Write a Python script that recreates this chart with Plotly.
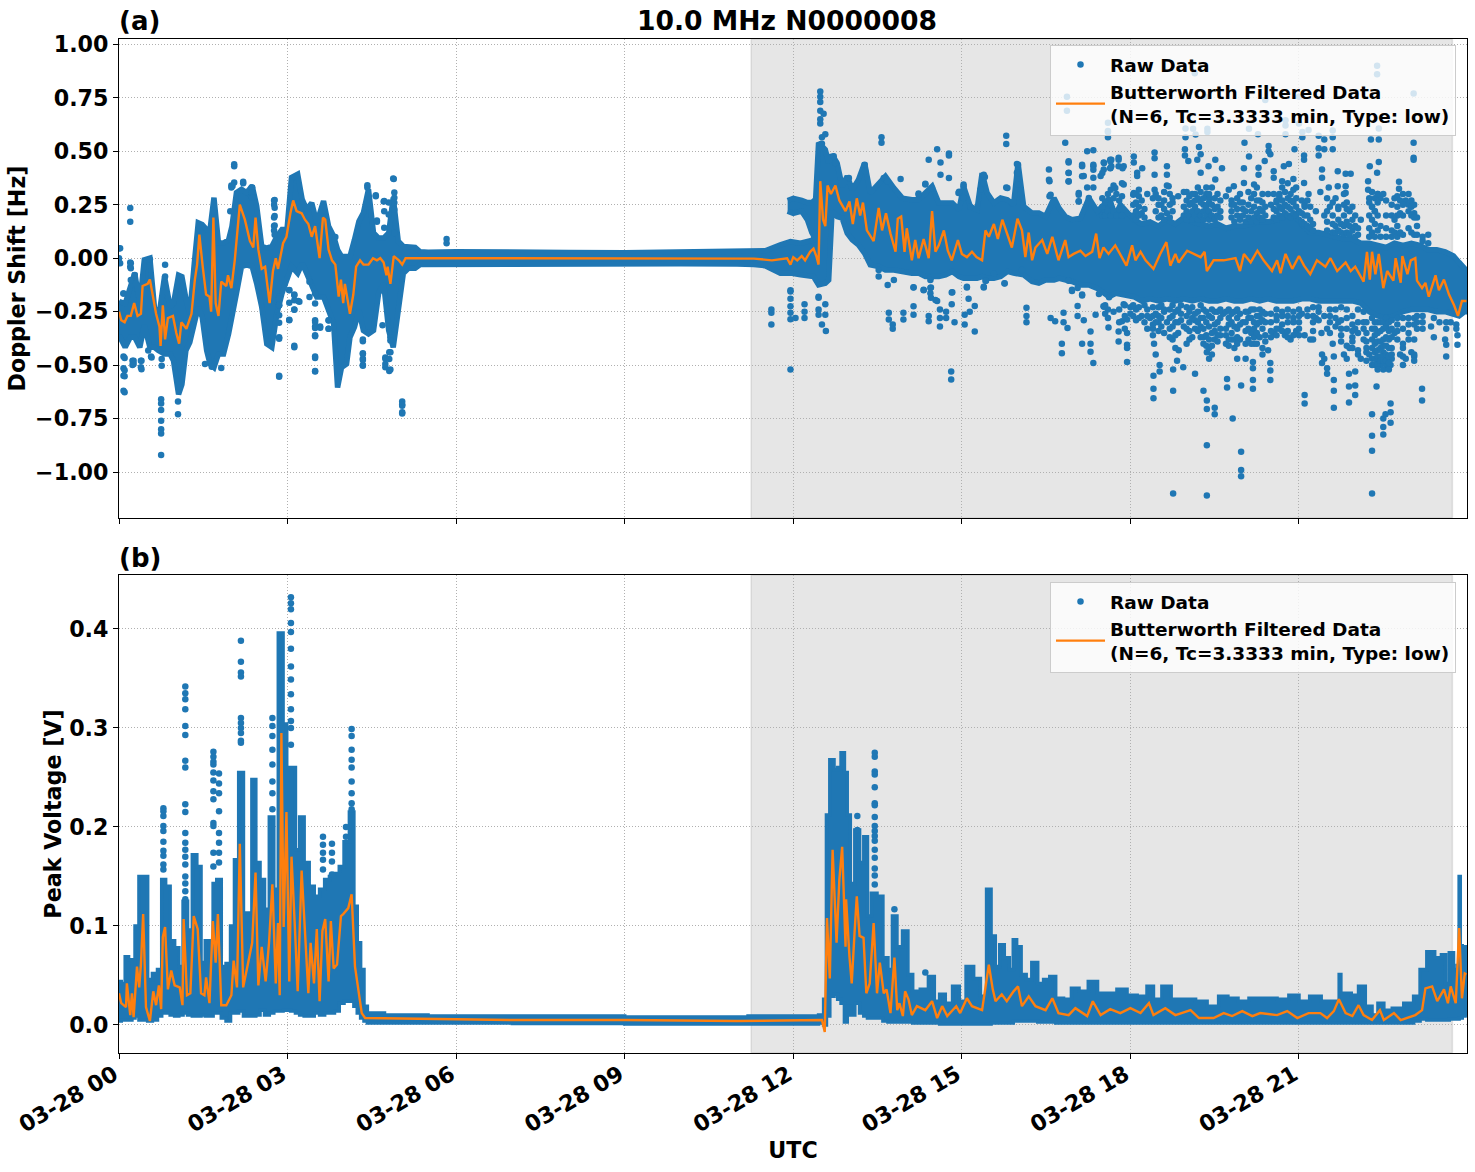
import pandas as pd
import plotly.graph_objects as go

# Time is held in hours after 00:00 UTC on the day plotted.
DAY_START = pd.Timestamp("2024-03-28 00:00:00")
X_END_HOURS = 23.99
SHADE_HOURS = (11.25, 23.73)

TITLE = "10.0 MHz N0000008"
RAW_LABEL = "Raw Data"
FILTER_LABEL = "Butterworth Filtered Data<br>(N=6, Tc=3.3333 min, Type: low)"

DOPPLER_TICKS = [-1.0, -0.75, -0.5, -0.25, 0.0, 0.25, 0.5, 0.75, 1.0]
VOLTAGE_TICKS = [0.0, 0.1, 0.2, 0.3, 0.4]

# Dense body of the raw Doppler samples: (hour, upper edge, lower edge)
DOPPLER_BODY = [
    (0.0, -0.2, -0.36), (0.02, -0.204, -0.37), (0.11, -0.212, -0.417), (0.2, -0.134, -0.37), (0.28, -0.07, -0.37), (0.37, -0.212, -0.417),
    (0.45, -0.008, -0.314), (0.55, 0.0, -0.417), (0.63, -0.228, -0.417), (0.7, -0.29, -0.432), (0.81, -0.086, -0.448), (0.91, -0.228, -0.448),
    (0.97, -0.212, -0.48), (1.06, -0.079, -0.637), (1.12, -0.086, -0.59), (1.19, -0.189, -0.432), (1.26, -0.259, -0.393), (1.34, -0.024, -0.307),
    (1.41, 0.165, -0.228), (1.48, 0.157, -0.275), (1.56, 0.134, -0.432), (1.62, 0.134, -0.495), (1.69, 0.283, -0.511), (1.77, 0.071, -0.448),
    (1.86, 0.071, -0.448), (1.95, 0.086, -0.354), (2.01, 0.149, -0.291), (2.09, 0.307, -0.165), (2.18, 0.322, -0.039), (2.27, 0.307, -0.031),
    (2.37, 0.338, -0.039), (2.45, 0.244, -0.118), (2.54, 0.055, -0.228), (2.63, 0.047, -0.401), (2.72, 0.055, -0.417), (2.81, 0.102, -0.259),
    (2.9, 0.134, -0.165), (2.99, 0.134, -0.102), (3.07, 0.377, -0.039), (3.18, 0.393, -0.071), (3.26, 0.275, -0.024), (3.34, 0.228, -0.071),
    (3.43, 0.259, -0.118), (3.52, 0.165, -0.181), (3.64, 0.267, -0.181), (3.73, 0.149, -0.244), (3.82, 0.102, -0.307), (3.89, 0.039, -0.605),
    (3.96, 0.008, -0.511), (4.05, 0.008, -0.495), (4.11, 0.008, -0.37), (4.19, 0.086, -0.322), (4.27, 0.173, -0.244), (4.35, 0.212, -0.338),
    (4.44, 0.322, -0.354), (4.53, 0.118, -0.338), (4.62, 0.094, -0.165), (4.71, 0.094, -0.118), (4.8, 0.118, -0.338), (4.88, 0.283, -0.417),
    (4.97, 0.079, -0.259), (5.06, 0.055, -0.071), (5.15, 0.055, -0.047), (5.27, 0.05, -0.047), (5.36, 0.03, -0.03),
    (5.5, 0.028, -0.028), (6.0, 0.03, -0.032), (7.0, 0.026, -0.027), (8.0, 0.027, -0.026), (9.0, 0.025, -0.027),
    (10.0, 0.027, -0.026), (11.0, 0.028, -0.027), (11.3, 0.032, -0.03), (11.5, 0.035, -0.035), (11.77, 0.062, -0.07),
    (11.95, 0.078, -0.07), (12.13, 0.07, -0.078), (12.36, 0.086, -0.086), (12.45, 0.54, -0.125), (12.57, 0.508, -0.117), (12.63, 0.445, -0.102),
    (12.69, 0.484, 0.219), (12.78, 0.445, 0.195), (12.87, 0.336, 0.187), (12.96, 0.383, 0.117), (13.05, 0.32, 0.086), (13.16, 0.367, 0.062),
    (13.27, 0.445, 0.023), (13.37, 0.305, -0.031), (13.52, 0.352, -0.039), (13.64, 0.383, -0.055), (13.79, 0.328, -0.055), (13.94, 0.281, -0.062),
    (14.11, 0.273, -0.07), (14.23, 0.273, -0.07), (14.35, 0.305, -0.086), (14.47, 0.336, -0.086), (14.59, 0.258, -0.086), (14.71, 0.258, -0.078),
    (14.83, 0.258, -0.062), (14.95, 0.227, -0.086), (15.03, 0.336, -0.094), (15.15, 0.242, -0.094), (15.27, 0.227, -0.094), (15.36, 0.398, -0.086),
    (15.45, 0.305, -0.094), (15.57, 0.258, -0.094), (15.69, 0.281, -0.086), (15.81, 0.273, -0.062), (15.92, 0.25, -0.07), (16.0, 0.445, -0.07),
    (16.1, 0.242, -0.078), (16.25, 0.211, -0.109), (16.37, 0.211, -0.117), (16.49, 0.195, -0.102), (16.64, 0.281, -0.102), (16.73, 0.234, -0.094),
    (16.84, 0.195, -0.102), (16.96, 0.18, -0.109), (17.11, 0.187, -0.125), (17.26, 0.281, -0.125), (17.41, 0.22, -0.141), (17.53, 0.25, -0.164),
    (17.62, 0.281, -0.18), (17.74, 0.195, -0.164), (17.82, 0.25, -0.164), (18.06, 0.18, -0.18), (18.2, 0.16, -0.2), (18.35, 0.17, -0.19), (18.5, 0.15, -0.2),
    (18.65, 0.18, -0.19), (18.8, 0.16, -0.2), (18.95, 0.19, -0.19), (19.1, 0.17, -0.2), (19.25, 0.16, -0.19),
    (19.4, 0.15, -0.2), (19.55, 0.16, -0.2), (19.7, 0.14, -0.19), (19.85, 0.15, -0.2), (20.0, 0.15, -0.2),
    (20.15, 0.16, -0.19), (20.3, 0.17, -0.2), (20.45, 0.17, -0.19), (20.6, 0.18, -0.2), (20.75, 0.2, -0.2),
    (20.9, 0.2, -0.2), (21.05, 0.16, -0.19), (21.2, 0.12, -0.19), (21.35, 0.12, -0.2), (21.5, 0.11, -0.2),
    (21.65, 0.1, -0.2), (21.8, 0.09, -0.2), (21.95, 0.09, -0.2), (22.1, 0.07, -0.21), (22.25, 0.07, -0.25),
    (22.4, 0.06, -0.27), (22.55, 0.05, -0.28), (22.7, 0.07, -0.27), (22.85, 0.06, -0.25), (23.0, 0.07, -0.24),
    (23.15, 0.06, -0.24), (23.3, 0.04, -0.24), (23.45, 0.04, -0.25), (23.6, 0.03, -0.25), (23.75, 0.01, -0.26),
    (23.85, -0.02, -0.27), (23.95, -0.05, -0.25), (23.99, -0.06, -0.25),
]

# Compact cluster of samples near +0.25 Hz just before the jump at 12:30
DOPPLER_CLUSTER = [
    (11.9, 0.27, 0.22), (12.0, 0.28, 0.21), (12.15, 0.27, 0.22), (12.25, 0.26, 0.18), (12.33, 0.26, 0.12), (12.42, 0.28, 0.08),
]

# Scattered Doppler samples outside the body: (hour, [values])
DOPPLER_SCATTER = [
    (0.0, [0.045, 0.0, -0.02]), (0.2, [0.235, 0.17, -0.02, -0.04]), (0.08, [-0.165, -0.46, -0.515, -0.55, -0.62]),
    (0.24, [-0.48, -0.5]), (0.39, [-0.48, -0.51]), (0.57, [-0.46]), (0.75, [-0.66, -0.68, -0.71, -0.76, -0.8, -0.82, -0.92]),
    (1.05, [-0.67, -0.73]), (2.05, [0.43]), (2.0, [0.34, 0.33]), (2.21, [0.35]), (2.36, [0.33, 0.31, 0.29]),
    (2.76, [0.27, 0.25, 0.19, 0.15, 0.13]), (2.85, [-0.55, -0.37, -0.22, -0.18]), (3.03, [-0.29, -0.15]),
    (3.12, [-0.41, -0.24, -0.17]), (3.19, [-0.2]), (3.49, [-0.46, -0.53, -0.36, -0.32, -0.29]), (3.58, [-0.32]),
    (3.73, [-0.33, -0.29]), (4.34, [-0.5, -0.47, -0.445, -0.38]), (4.42, [0.33]), (4.57, [0.29]), (4.59, [0.17]),
    (4.89, [0.37]), (4.71, [0.265]), (4.8, [0.26]), (4.74, [-0.47, -0.51]), (4.83, [-0.52, -0.44, -0.37]),
    (5.04, [-0.67, -0.69, -0.72]), (5.83, [0.09, 0.07]),
    (11.61, [-0.24, -0.255, -0.31]), (11.95, [-0.15, -0.19, -0.225, -0.255, -0.285, -0.52]), (12.04, [-0.28]),
    (12.2, [-0.215, -0.25, -0.28]), (12.45, [-0.185, -0.24, -0.265]), (12.51, [-0.31, 0.565, 0.535]), (12.57, [-0.215, -0.265, 0.58]),
    (12.58, [-0.34]), (12.48, [0.78, 0.755, 0.73, 0.69, 0.65, 0.63]), (12.54, [0.675]), (13.7, [-0.255, -0.287]), (13.77, [-0.31, -0.33]),
    (13.96, [-0.255, -0.287]), (14.14, [-0.225, -0.265, -0.137]), (14.32, [-0.15]), (14.41, [-0.27, -0.295, 0.46]),
    (14.45, [-0.09, -0.137, -0.185]), (14.56, [-0.2, 0.51]), (14.61, [-0.24, -0.28, -0.32]), (14.72, [-0.25, -0.28]),
    (14.82, [-0.16, -0.216]), (14.87, [-0.3]), (14.81, [-0.53, -0.567]), (15.05, [-0.264, -0.31]), (15.09, [-0.137]),
    (15.12, [-0.19]), (15.14, [-0.25]), (15.23, [-0.224, -0.343]), (15.39, [-0.137]), (15.43, [-0.106]), (15.76, [-0.118]),
    (16.15, [-0.232, -0.27, -0.3]), (16.58, [-0.28]), (16.66, [-0.295]), (16.78, [-0.4, -0.445]), (16.81, [-0.255, -0.3]),
    (16.88, [-0.327]), (16.96, [-0.153]), (17.06, [-0.224, -0.27]), (17.14, [-0.4, -0.17, 0.43]), (17.17, [-0.29, 0.384]),
    (17.29, [-0.343, -0.4, -0.437]), (17.34, [-0.49, 0.505, 0.43, 0.376, 0.33]), (17.38, [-0.264]), (17.61, [-0.324]),
    (17.79, [-0.343, -0.39, 0.46, 0.47, 0.43]), (17.94, [-0.485, -0.405, -0.287, -0.35, -0.42]), (17.88, [-0.216, 0.43, 0.344]),
    (13.57, [0.565, 0.54]), (14.62, [0.447, 0.39]), (14.77, [0.49, 0.48, 0.375]), (14.35, [0.345]), (14.23, [0.297]),
    (15.03, [0.336]), (14.94, [0.305]), (15.15, [0.24]), (15.41, [0.38]), (15.79, [0.573, 0.534, 0.33]), (15.98, [0.44, 0.4]),
    (16.55, [0.415]), (16.56, [0.36, 0.29]), (16.84, [0.54]), (16.9, [0.447, 0.4, 0.36]), (17.08, [0.305, 0.265]), (17.23, [0.5, 0.33]),
    (17.525, [0.447, 0.415]), (17.6, [0.565, 0.59, 0.633, 0.595]), (17.66, [0.46, 0.43]), (17.47, [0.384]), (18.12, [0.4, 0.384]),
    (18.05, [0.297]), (16.87, [0.755, 0.69]),
    (19.145, [0.865]), (22.39, [0.9, 0.86, 0.4]), (23.04, [0.77, 0.54, 0.47, 0.46]), (20.4, [0.74]), (19.33, [0.755]),
    (20.76, [0.645, 0.62, 0.58]), (21.0, [0.755, 0.63]), (18.98, [0.607, 0.565]), (19.115, [0.605]), (19.16, [0.578]),
    (19.37, [0.605, 0.59]), (20.11, [0.605, 0.475]), (20.27, [0.58]), (21.06, [0.59, 0.565]), (21.17, [0.6, 0.3]), (21.35, [0.573, 0.514, 0.48]),
    (21.45, [0.555, 0.51]), (21.6, [0.597, 0.565, 0.51]), (22.28, [0.555]), (22.42, [0.607, 0.555, 0.45]), (20.03, [0.54]),
    (20.46, [0.525, 0.5]), (20.49, [0.486]), (20.92, [0.51]), (21.09, [0.48, 0.46, 0.352]), (18.97, [0.51, 0.48]), (19.03, [0.455]),
    (19.22, [0.52]), (19.19, [0.46]), (19.25, [0.486, 0.4]), (18.43, [0.494, 0.467, 0.39, 0.32]), (18.06, [0.475, 0.447, 0.305]), (17.64, [0.46, 0.42]),
    (17.86, [0.42]), (20.02, [0.42, 0.352]), (20.28, [0.423, 0.39]), (20.39, [0.455]), (20.55, [0.407, 0.376]), (20.73, [0.43]), (20.82, [0.44]),
    (21.41, [0.415, 0.376]), (21.38, [0.31]), (21.53, [0.33]), (21.69, [0.407, 0.336]), (21.83, [0.395, 0.336, 0.305]), (21.92, [0.395]),
    (22.26, [0.43]), (22.23, [0.36, 0.32]), (22.78, [0.357, 0.325]), (18.65, [0.43, 0.39]), (18.68, [0.336]), (18.21, [0.42]),
    (19.51, [0.46, 0.368]), (19.39, [0.43]), (19.63, [0.42]), (19.84, [0.336]), (20.2, [0.344]),
    (18.1, [0.3]), (18.15, [0.32]), (18.3, [0.3]), (18.4, [0.28]), (18.5, [0.25]), (18.6, [0.31]), (18.7, [0.3]), (18.75, [0.26]), (18.85, [0.29]),
    (18.95, [0.31]), (19.0, [0.27]), (19.1, [0.26]), (19.15, [0.3]), (19.2, [0.33]), (19.3, [0.25]), (19.35, [0.3]), (19.4, [0.28]), (19.45, [0.33]),
    (19.55, [0.3]), (19.6, [0.27]), (19.7, [0.29]), (19.75, [0.32]), (19.8, [0.25]), (19.9, [0.28]), (19.95, [0.3]), (20.0, [0.26]), (20.1, [0.31]),
    (20.15, [0.28]), (20.25, [0.33]), (20.3, [0.27]), (20.35, [0.3]), (20.45, [0.3]), (20.5, [0.25]), (20.6, [0.27]), (20.65, [0.3]), (20.7, [0.33]),
    (20.8, [0.35]), (20.85, [0.3]), (20.9, [0.37]), (20.95, [0.33]), (21.05, [0.27]), (21.1, [0.25]), (21.15, [0.27]), (21.2, [0.24]), (21.3, [0.22]),
    (21.45, [0.2]), (21.5, [0.28]), (21.55, [0.24]), (21.65, [0.28]), (21.7, [0.24]), (21.8, [0.3]), (21.85, [0.26]), (21.9, [0.22]), (21.95, [0.24]),
    (22.0, [0.2]), (22.1, [0.18]), (22.25, [0.28]), (22.3, [0.24]), (22.35, [0.22]), (22.4, [0.3]), (22.45, [0.28]), (22.5, [0.3]), (22.55, [0.2]),
    (22.65, [0.25]), (22.7, [0.28]), (22.75, [0.2]), (22.85, [0.3]), (22.9, [0.27]), (22.95, [0.25]), (23.0, [0.24]), (23.05, [0.21]), (23.1, [0.19]),
    (17.52, [-0.225]), (17.85, [-0.295]), (18.41, [-0.55, -0.61, -0.655]), (18.52, [-0.5, -0.53]), (18.76, [-0.62, -0.52, -1.1]), (18.86, [-0.43]),
    (18.83, [-0.48]), (18.94, [-0.51]), (19.15, [-0.54, -0.33]), (19.3, [-0.62, -0.28]), (19.36, [-0.665, -0.705, -0.875, -1.11, -0.44]), (19.5, [-0.7, -0.73, -0.38]),
    (19.72, [-0.565, -0.605]), (19.82, [-0.75]), (19.97, [-0.595, -0.905, -0.99, -1.02]), (20.18, [-0.485, -0.515, -0.57, -0.61]), (20.49, [-0.49, -0.525, -0.57]),
    (21.1, [-0.64, -0.68, -0.36]), (21.41, [-0.45, -0.49]), (21.5, [-0.515, -0.54, -0.33]), (21.62, [-0.46, -0.57, -0.62, -0.7]), (21.89, [-0.54, -0.6, -0.675]),
    (22.0, [-0.53, -0.595, -0.64, -0.33]), (22.3, [-0.73, -0.83, -0.9, -1.1, -0.33]), (22.38, [-0.6]), (22.5, [-0.75, -0.79, -0.825, -0.44]), (22.63, [-0.68, -0.72, -0.77, -0.5]),
    (22.54, [-0.73]), (23.19, [-0.61, -0.665]), (23.62, [-0.405, -0.46]), (23.82, [-0.36, -0.405]),
    (18.1, [-0.24]), (18.2, [-0.27]), (18.35, [-0.28]), (18.4, [-0.33]), (18.42, [-0.4]), (18.45, [-0.45]), (18.5, [-0.3]), (18.6, [-0.25]), (18.65, [-0.3]), (18.7, [-0.33]),
    (18.75, [-0.38]), (18.8, [-0.3]), (18.85, [-0.35]), (18.9, [-0.26]), (18.95, [-0.32]), (19.0, [-0.4]), (19.05, [-0.3]), (19.1, [-0.28]), (19.2, [-0.25]), (19.25, [-0.37]),
    (19.35, [-0.3]), (19.4, [-0.47]), (19.45, [-0.35]), (19.55, [-0.3]), (19.6, [-0.36]), (19.65, [-0.26]), (19.7, [-0.4]), (19.75, [-0.28]), (19.8, [-0.35]), (19.85, [-0.42]),
    (19.9, [-0.47]), (19.95, [-0.38]), (20.0, [-0.3]), (20.05, [-0.47]), (20.1, [-0.25]), (20.15, [-0.35]), (20.2, [-0.4]), (20.25, [-0.31]), (20.3, [-0.27]), (20.35, [-0.33]),
    (20.4, [-0.39]), (20.45, [-0.43]), (20.5, [-0.3]), (20.55, [-0.35]), (20.6, [-0.29]), (20.65, [-0.33]), (20.7, [-0.27]), (20.75, [-0.36]), (20.8, [-0.3]), (20.85, [-0.38]),
    (20.9, [-0.28]), (20.95, [-0.34]), (21.0, [-0.3]), (21.05, [-0.26]), (21.2, [-0.38]), (21.25, [-0.3]), (21.3, [-0.28]), (21.35, [-0.25]), (21.4, [-0.35]), (21.45, [-0.47]),
    (21.55, [-0.3]), (21.6, [-0.4]), (21.65, [-0.28]), (21.7, [-0.3]), (21.75, [-0.36]), (21.8, [-0.45]), (21.85, [-0.47]), (21.9, [-0.42]), (21.95, [-0.37]), (22.05, [-0.45]),
    (22.1, [-0.47]), (22.15, [-0.38]), (22.2, [-0.42]), (22.25, [-0.45]), (22.35, [-0.36]), (22.4, [-0.48]), (22.45, [-0.5]), (22.55, [-0.5]), (22.6, [-0.42]), (22.65, [-0.47]),
    (22.7, [-0.35]), (22.75, [-0.38]), (22.8, [-0.45]), (22.85, [-0.42]), (22.9, [-0.47]), (22.95, [-0.35]), (23.0, [-0.44]), (23.05, [-0.46]), (23.1, [-0.3]), (23.2, [-0.33]),
    (23.35, [-0.32]), (23.4, [-0.37]), (23.5, [-0.3]), (23.6, [-0.38]),
]

# Thick scatter just above the body in the evening hours
DOPPLER_SCATTER_UPPER = [
    (17.5, [0.2, 0.24, 0.28]), (17.55, [0.2, 0.26]), (17.6, [0.22, 0.3]), (17.65, [0.2, 0.25, 0.32]), (17.7, [0.22, 0.28, 0.34]), (17.75, [0.2, 0.3]), (17.8, [0.23, 0.27]), (17.85, [0.2, 0.29, 0.35]),
    (18.05, [0.2, 0.25]), (18.1, [0.18, 0.22, 0.26]), (18.15, [0.2, 0.24, 0.29]), (18.2, [0.21, 0.27]), (18.25, [0.19, 0.23]),
    (18.45, [0.22, 0.3]), (18.5, [0.19, 0.28]), (18.55, [0.2, 0.25]), (18.6, [0.18, 0.23, 0.27]), (18.65, [0.21, 0.34]), (18.7, [0.19, 0.25]), (18.75, [0.22, 0.28]),
    (18.95, [0.2, 0.24]), (19.0, [0.18, 0.22, 0.31]), (19.05, [0.2, 0.25, 0.29]), (19.1, [0.18, 0.22, 0.3]), (19.15, [0.2, 0.24, 0.27]), (19.2, [0.18, 0.22, 0.28]), (19.25, [0.2, 0.26, 0.31]),
    (19.3, [0.18, 0.22, 0.28]), (19.35, [0.2, 0.24, 0.33]), (19.4, [0.18, 0.22, 0.26, 0.3]), (19.45, [0.2, 0.25]), (19.5, [0.18, 0.23, 0.28]), (19.55, [0.2, 0.24]), (19.6, [0.19, 0.22]),
    (19.8, [0.19, 0.22, 0.27]), (19.85, [0.17, 0.25]), (19.9, [0.2, 0.23]), (19.95, [0.18, 0.26]), (20.0, [0.2, 0.23]), (20.05, [0.17, 0.22]), (20.1, [0.19, 0.25]), (20.15, [0.17, 0.22]),
    (20.2, [0.19, 0.24, 0.3]), (20.25, [0.17, 0.21, 0.27]), (20.3, [0.19, 0.23]), (20.35, [0.18, 0.22, 0.26]), (20.4, [0.2, 0.24]),
    (20.55, [0.19, 0.23, 0.3]), (20.6, [0.18, 0.22, 0.26]), (20.65, [0.2, 0.24, 0.29]), (20.7, [0.19, 0.23, 0.27, 0.36]), (20.75, [0.21, 0.25, 0.31]), (20.8, [0.2, 0.24, 0.28]), (20.85, [0.19, 0.23, 0.27]),
    (20.9, [0.21, 0.26, 0.32]), (20.95, [0.2, 0.24, 0.28]), (21.0, [0.18, 0.22]), (21.05, [0.17, 0.21]), (21.1, [0.16, 0.2, 0.24]), (21.15, [0.15, 0.2]), (21.2, [0.14, 0.18]), (21.25, [0.13, 0.16]),
    (21.5, [0.13, 0.17, 0.22]), (21.6, [0.12, 0.16, 0.2, 0.26]), (21.65, [0.12, 0.15]), (21.7, [0.13, 0.18, 0.23]), (21.75, [0.12, 0.16]), (21.8, [0.11, 0.15, 0.2, 0.25]), (21.85, [0.12, 0.17, 0.23]),
    (21.9, [0.11, 0.15]), (21.95, [0.13, 0.18]), (22.0, [0.1, 0.15]), (22.05, [0.11, 0.14]),
    (22.25, [0.1, 0.14, 0.2, 0.26]), (22.3, [0.12, 0.18, 0.24, 0.31]), (22.35, [0.1, 0.16, 0.22, 0.28]), (22.4, [0.13, 0.2, 0.26, 0.3]), (22.45, [0.1, 0.15]), (22.55, [0.1, 0.14, 0.27]),
    (22.65, [0.1, 0.13, 0.2]), (22.7, [0.12, 0.18]), (22.75, [0.1, 0.15, 0.24, 0.29]), (22.8, [0.12, 0.21, 0.27]), (22.85, [0.11, 0.2, 0.25]), (22.95, [0.14, 0.22, 0.3]), (23.0, [0.12, 0.2, 0.27]),
    (23.05, [0.11, 0.19, 0.25]), (23.1, [0.11, 0.15]), (23.2, [0.08, 0.1]), (23.3, [0.07, 0.11]),
]

# Thick scatter just below the body in the evening hours
DOPPLER_SCATTER_LOWER = [
    (17.55, [-0.22, -0.26]), (17.6, [-0.24, -0.28]), (17.7, [-0.25]), (17.8, [-0.24, -0.3]), (17.9, [-0.22, -0.27, -0.33]), (18.0, [-0.23, -0.26]), (18.05, [-0.22, -0.27]), (18.1, [-0.29]),
    (18.15, [-0.23, -0.28]), (18.25, [-0.22, -0.3]), (18.3, [-0.24, -0.27, -0.33]), (18.4, [-0.23, -0.27, -0.31, -0.36]), (18.45, [-0.26, -0.3]), (18.5, [-0.23, -0.27, -0.34]), (18.55, [-0.22, -0.28, -0.32]),
    (18.6, [-0.24, -0.35]), (18.7, [-0.24, -0.28, -0.37]), (18.75, [-0.22, -0.27, -0.32]), (18.8, [-0.25, -0.36, -0.42]), (18.85, [-0.24, -0.3]), (18.9, [-0.22, -0.29]), (19.0, [-0.23, -0.27, -0.33]),
    (19.05, [-0.25, -0.34, -0.38]), (19.1, [-0.23, -0.37]), (19.15, [-0.26, -0.29]), (19.2, [-0.3, -0.34]), (19.25, [-0.22, -0.28, -0.32]), (19.3, [-0.24, -0.33, -0.37, -0.4]), (19.35, [-0.25, -0.36, -0.41]),
    (19.4, [-0.27, -0.32, -0.38, -0.42]), (19.45, [-0.24, -0.28, -0.41, -0.45]), (19.5, [-0.25, -0.31, -0.34]), (19.55, [-0.25, -0.36, -0.39]), (19.6, [-0.24, -0.28, -0.33]), (19.7, [-0.25, -0.33, -0.36]),
    (19.75, [-0.24, -0.31, -0.38, -0.41]), (19.8, [-0.26, -0.3, -0.38]), (19.85, [-0.25, -0.32, -0.38]), (19.9, [-0.24, -0.28, -0.33, -0.37, -0.4]), (19.95, [-0.26, -0.31]), (20.05, [-0.25, -0.3, -0.34, -0.4]),
    (20.1, [-0.28, -0.33, -0.38]), (20.15, [-0.24, -0.28, -0.4]), (20.2, [-0.24, -0.3, -0.33, -0.37]), (20.25, [-0.27, -0.35, -0.4]), (20.3, [-0.24, -0.3, -0.37]), (20.35, [-0.25, -0.29, -0.42, -0.45]),
    (20.4, [-0.26, -0.3, -0.36]), (20.5, [-0.26, -0.34, -0.37]), (20.6, [-0.24, -0.27, -0.33, -0.36]), (20.7, [-0.25, -0.31, -0.34]), (20.8, [-0.24, -0.27, -0.34, -0.37]), (20.9, [-0.25, -0.3, -0.36]),
    (21.0, [-0.24, -0.27, -0.33, -0.36]), (21.15, [-0.24, -0.27]), (21.25, [-0.23, -0.27, -0.34, -0.38]), (21.35, [-0.23, -0.29]), (21.45, [-0.27]), (21.55, [-0.24, -0.27, -0.35]), (21.65, [-0.24, -0.32]),
    (21.75, [-0.23, -0.29, -0.33, -0.39]), (21.85, [-0.24, -0.28, -0.33, -0.41]), (21.95, [-0.27, -0.31, -0.34, -0.39, -0.42]), (22.05, [-0.24, -0.3, -0.35, -0.43]), (22.15, [-0.25, -0.3, -0.33]),
    (22.2, [-0.3, -0.35, -0.39, -0.44, -0.48]), (22.3, [-0.28, -0.38, -0.42, -0.47, -0.5]), (22.35, [-0.3, -0.33, -0.4, -0.44, -0.47, -0.5]), (22.4, [-0.3, -0.35, -0.39, -0.43, -0.46, -0.5, -0.52]),
    (22.45, [-0.3, -0.34, -0.39, -0.42, -0.46, -0.48]), (22.5, [-0.3, -0.33, -0.38, -0.41, -0.46, -0.48, -0.52]), (22.55, [-0.28, -0.32, -0.37, -0.41, -0.45, -0.48]), (22.6, [-0.3, -0.34, -0.38, -0.46, -0.49, -0.52]),
    (22.65, [-0.29, -0.33, -0.37, -0.42, -0.45]), (22.75, [-0.28, -0.31, -0.34]), (22.85, [-0.28, -0.33, -0.4, -0.46, -0.5]), (22.95, [-0.28, -0.31, -0.38]), (23.05, [-0.28, -0.31, -0.38, -0.45, -0.48]),
    (23.1, [-0.27, -0.33]), (23.2, [-0.27, -0.3]), (23.4, [-0.28]), (23.62, [-0.3, -0.33]), (23.7, [-0.3]), (23.8, [-0.31, -0.33]),
]

# Samples hugging the body edges before sunset and through the afternoon
DOPPLER_SCATTER_EDGES = [
    (0.02, [0.047, -0.024]), (0.21, [-0.024, -0.047, -0.102]), (0.28, [-0.079]), (0.82, [-0.031, -0.086]), (0.55, [-0.005]), (0.08, [-0.165]),
    (0.1, [-0.467, -0.524, -0.552, -0.627]), (0.26, [-0.48, -0.495]), (0.4, [-0.48, -0.519]), (0.52, [-0.432]), (0.58, [-0.464]), (0.76, [-0.472, -0.503]),
    (1.53, [-0.495]), (1.65, [-0.508]), (1.82, [-0.514]), (1.98, [0.22]), (2.02, [0.338]), (2.05, [0.354, 0.439]), (2.21, [0.358]), (2.37, [0.33, 0.307, 0.283]),
    (2.77, [0.272, 0.236, 0.197, 0.153, 0.11]), (2.85, [-0.189, -0.22, -0.267, -0.302, -0.377, -0.555]), (3.03, [-0.149, -0.208, -0.288]),
    (3.12, [-0.173, -0.197, -0.241, -0.417]), (3.21, [-0.204]), (3.39, [-0.181, -0.11]), (3.49, [-0.165, -0.212, -0.299, -0.327, -0.365, -0.467, -0.527]),
    (3.58, [-0.325]), (3.73, [-0.291, -0.33]), (3.85, [0.099]), (4.34, [-0.388, -0.448, -0.476, -0.503]), (4.42, [0.341]), (4.57, [0.294]), (4.72, [0.267, 0.22, 0.142]),
    (4.8, [0.204]), (4.88, [0.373]), (4.9, [0.307, 0.283, 0.259, 0.228, 0.118]), (4.59, [0.176]), (4.74, [-0.464, -0.495]), (4.81, [-0.44, -0.472, -0.527]),
    (4.69, [-0.314]), (4.83, [-0.385]), (5.04, [-0.684, -0.726]),
    (12.72, [0.477]), (12.75, [0.445]), (13.27, [0.437]), (13.28, [0.406]), (12.99, [0.375]), (13.61, [0.375]), (13.67, [0.36]), (13.91, [0.37]), (14.23, [0.302]),
    (14.35, [0.348]), (14.47, [0.328]), (14.95, [0.311]), (15.03, [0.344, 0.281]), (15.33, [0.32]), (15.39, [0.39, 0.352]), (15.81, [0.328]), (16.0, [0.437, 0.398, 0.344]),
    (16.55, [0.367]), (16.58, [0.297]), (16.9, [0.453, 0.398, 0.359]), (17.08, [0.297, 0.266]), (17.14, [0.437, 0.383]), (17.26, [0.281]), (17.34, [0.437, 0.414]),
    (17.5, [0.398]), (17.53, [0.445]), (17.645, [0.453, 0.422]), (17.73, [0.328]),
    (12.45, [-0.18]), (11.95, [-0.156]), (13.52, [-0.055, -0.086]), (13.68, [-0.125]), (13.79, [-0.102]), (14.14, [-0.136]), (14.32, [-0.148]), (14.44, [-0.102, -0.14, -0.164]),
    (14.53, [-0.195]), (14.83, [-0.159]), (15.09, [-0.133]), (15.39, [-0.133]), (15.42, [-0.105]), (15.76, [-0.117]), (15.57, [-0.073]), (16.07, [-0.055]), (16.9, [-0.106]),
    (16.96, [-0.148]), (17.06, [-0.14]), (17.14, [-0.175]), (17.44, [-0.167]), (17.53, [-0.227]), (17.62, [-0.183]),
]

# Low-pass filtered Doppler shift: (hour, value)
DOPPLER_FILTERED = [
    (0.0, -0.25), (0.04, -0.29), (0.1, -0.3), (0.15, -0.27), (0.21, -0.27), (0.27, -0.21), (0.33, -0.27), (0.39, -0.26), (0.42, -0.13), (0.51, -0.12),
    (0.55, -0.1), (0.6, -0.18), (0.66, -0.26), (0.72, -0.32), (0.74, -0.41), (0.78, -0.22), (0.82, -0.38), (0.87, -0.28), (0.96, -0.27), (1.02, -0.35),
    (1.07, -0.4), (1.11, -0.3), (1.2, -0.33), (1.29, -0.26), (1.35, -0.1), (1.39, -0.03), (1.43, 0.11), (1.49, -0.04), (1.55, -0.17), (1.61, -0.18),
    (1.64, -0.25), (1.68, 0.19), (1.72, -0.21), (1.77, -0.27), (1.82, -0.11), (1.91, -0.13), (1.94, -0.08), (2.0, -0.14), (2.06, -0.01), (2.15, 0.25),
    (2.24, 0.18), (2.33, 0.08), (2.39, 0.05), (2.43, 0.19), (2.48, 0.04), (2.54, -0.05), (2.6, -0.04), (2.68, -0.21), (2.74, -0.06), (2.79, 0.0),
    (2.83, -0.05), (2.92, 0.07), (2.98, 0.1), (3.05, 0.21), (3.1, 0.27), (3.16, 0.22), (3.25, 0.21), (3.31, 0.18), (3.37, 0.16), (3.43, 0.1),
    (3.49, 0.15), (3.57, 0.0), (3.63, 0.19), (3.67, 0.18), (3.73, 0.04), (3.79, -0.01), (3.85, -0.03), (3.91, -0.18), (3.95, -0.1), (3.99, -0.21),
    (4.02, -0.12), (4.11, -0.26), (4.17, -0.17), (4.22, -0.04), (4.29, -0.01), (4.35, -0.03), (4.44, -0.03), (4.52, 0.0), (4.59, -0.01), (4.65, 0.0),
    (4.71, -0.02), (4.76, -0.08), (4.78, -0.04), (4.83, -0.12), (4.89, 0.01), (4.98, -0.01), (5.04, -0.03), (5.1, 0.0), (5.6, 0.0), (8.0, -0.002),
    (11.3, -0.002), (11.62, -0.01), (11.89, 0.0), (11.95, -0.03), (12.0, 0.005), (12.07, -0.01), (12.15, 0.01), (12.21, -0.01), (12.3, 0.03), (12.36, 0.045),
    (12.41, 0.01), (12.45, -0.03), (12.48, 0.36), (12.53, 0.18), (12.57, 0.15), (12.61, 0.34), (12.67, 0.3), (12.75, 0.34), (12.82, 0.27), (12.93, 0.22),
    (13.0, 0.265), (13.06, 0.16), (13.13, 0.28), (13.19, 0.2), (13.24, 0.26), (13.31, 0.13), (13.43, 0.08), (13.52, 0.235), (13.58, 0.13), (13.65, 0.21),
    (13.73, 0.115), (13.82, 0.03), (13.86, 0.185), (13.92, 0.195), (13.98, 0.03), (14.02, 0.14), (14.11, -0.01), (14.17, 0.085), (14.23, 0.0), (14.32, 0.09),
    (14.41, 0.0), (14.47, 0.22), (14.53, 0.03), (14.59, 0.06), (14.68, 0.13), (14.75, 0.035), (14.82, -0.01), (14.93, 0.085), (15.0, 0.02), (15.09, 0.005),
    (15.18, 0.03), (15.26, 0.005), (15.36, -0.01), (15.42, 0.13), (15.48, 0.1), (15.57, 0.16), (15.64, 0.09), (15.72, 0.18), (15.8, 0.115), (15.89, 0.05),
    (15.99, 0.185), (16.07, 0.13), (16.13, 0.005), (16.19, 0.12), (16.25, -0.01), (16.31, 0.05), (16.43, 0.085), (16.52, 0.02), (16.61, 0.1), (16.72, -0.01),
    (16.84, 0.085), (16.9, 0.005), (16.99, 0.02), (17.11, 0.035), (17.2, 0.01), (17.32, 0.03), (17.39, 0.115), (17.45, 0.0), (17.52, 0.05), (17.61, 0.02),
    (17.73, 0.06), (17.82, 0.02), (17.93, -0.035), (18.03, 0.06), (18.09, -0.01), (18.18, 0.03), (18.27, -0.01), (18.41, -0.05), (18.53, 0.02), (18.64, 0.075),
    (18.71, -0.035), (18.8, 0.02), (18.86, -0.02), (19.01, 0.035), (19.13, 0.02), (19.25, 0.005), (19.32, 0.03), (19.36, -0.06), (19.48, -0.01), (19.66, -0.01),
    (19.87, 0.0), (19.95, -0.06), (20.02, 0.02), (20.14, -0.02), (20.26, 0.035), (20.37, -0.01), (20.52, -0.06), (20.61, -0.01), (20.67, -0.07), (20.76, 0.02),
    (20.88, -0.05), (21.0, 0.01), (21.09, -0.035), (21.2, -0.075), (21.32, -0.01), (21.47, -0.04), (21.56, 0.0), (21.68, -0.06), (21.83, -0.02), (21.92, -0.06),
    (22.0, -0.04), (22.15, -0.11), (22.21, 0.03), (22.26, -0.1), (22.3, 0.03), (22.36, -0.075), (22.42, 0.02), (22.5, -0.14), (22.57, -0.06), (22.68, -0.105),
    (22.72, 0.0), (22.81, -0.115), (22.84, 0.01), (22.93, -0.075), (22.99, -0.01), (23.07, 0.0), (23.1, -0.105), (23.19, -0.14), (23.25, -0.115), (23.31, -0.18),
    (23.43, -0.08), (23.49, -0.15), (23.58, -0.1), (23.67, -0.17), (23.76, -0.22), (23.83, -0.27), (23.9, -0.2), (23.98, -0.2),
]

# Dense body of the raw peak voltage samples: (hour, upper edge, lower edge)
VOLTAGE_BODY = [
    (0.0, 0.044, 0.004), (0.08, 0.042, 0.005), (0.14, 0.069, 0.005), (0.2, 0.066, 0.005), (0.26, 0.042, 0.007), (0.31, 0.1, 0.009), (0.4, 0.15, 0.005), (0.47, 0.15, 0.005),
    (0.55, 0.046, 0.004), (0.64, 0.052, 0.005), (0.73, 0.056, 0.009), (0.79, 0.147, 0.012), (0.87, 0.14, 0.012), (0.95, 0.085, 0.01), (1.03, 0.078, 0.009), (1.1, 0.059, 0.01),
    (1.18, 0.125, 0.012), (1.26, 0.096, 0.01), (1.35, 0.172, 0.009), (1.42, 0.16, 0.009), (1.5, 0.063, 0.01), (1.57, 0.085, 0.009), (1.65, 0.069, 0.009), (1.7, 0.143, 0.012),
    (1.78, 0.147, 0.012), (1.86, 0.059, 0.007), (1.95, 0.062, 0.004), (2.02, 0.1, 0.012), (2.09, 0.167, 0.012), (2.17, 0.255, 0.014), (2.26, 0.113, 0.009), (2.33, 0.113, 0.009),
    (2.4, 0.248, 0.009), (2.47, 0.164, 0.01), (2.55, 0.147, 0.015), (2.63, 0.117, 0.01), (2.72, 0.21, 0.012), (2.79, 0.137, 0.014), (2.88, 0.396, 0.014), (2.96, 0.304, 0.015),
    (3.01, 0.26, 0.015), (3.1, 0.26, 0.014), (3.18, 0.177, 0.012), (3.25, 0.21, 0.01), (3.34, 0.164, 0.009), (3.43, 0.14, 0.009), (3.52, 0.13, 0.012), (3.62, 0.137, 0.01),
    (3.7, 0.147, 0.012), (3.79, 0.15, 0.012), (3.88, 0.153, 0.014), (3.96, 0.16, 0.022), (4.05, 0.185, 0.024), (4.15, 0.215, 0.024), (4.21, 0.12, 0.019), (4.27, 0.083, 0.012),
    (4.33, 0.056, 0.007), (4.39, 0.019, 0.004), (4.45, 0.012, 0.002), (5.0, 0.01, 0.002),
    (6.0, 0.009, 0.002), (8.0, 0.009, 0.0015), (10.0, 0.008, 0.001), (12.39, 0.009, 0.001), (12.51, 0.01, 0.002), (12.57, 0.026, 0.0), (12.61, 0.212, 0.009), (12.69, 0.268, 0.029),
    (12.76, 0.258, 0.031), (12.82, 0.26, 0.026), (12.88, 0.275, 0.022), (12.94, 0.255, 0.003), (12.98, 0.212, 0.019), (13.05, 0.143, 0.01), (13.14, 0.197, 0.022), (13.22, 0.164, 0.012),
    (13.29, 0.19, 0.009), (13.35, 0.11, 0.007), (13.43, 0.133, 0.007), (13.55, 0.13, 0.007), (13.64, 0.068, 0.004), (13.73, 0.056, 0.003), (13.8, 0.11, 0.003), (13.89, 0.079, 0.003),
    (14.0, 0.095, 0.003), (14.08, 0.051, 0.003), (14.17, 0.034, 0.002), (14.35, 0.036, 0.002), (14.46, 0.049, 0.002), (14.56, 0.024, 0.002), (14.65, 0.031, 0.001), (14.76, 0.022, 0.001),
    (14.91, 0.039, 0.001), (15.0, 0.024, 0.001), (15.15, 0.059, 0.001), (15.27, 0.047, 0.001), (15.39, 0.029, 0.001), (15.49, 0.137, 0.001), (15.55, 0.09, 0.002), (15.64, 0.059, 0.002),
    (15.71, 0.081, 0.002), (15.8, 0.068, 0.002), (15.89, 0.056, 0.002), (15.94, 0.086, 0.004), (16.01, 0.079, 0.004), (16.1, 0.051, 0.004), (16.19, 0.046, 0.004), (16.3, 0.063, 0.004),
    (16.4, 0.042, 0.003), (16.51, 0.046, 0.003), (16.62, 0.049, 0.003), (16.72, 0.027, 0.002), (16.9, 0.026, 0.002), (17.0, 0.037, 0.002), (17.17, 0.034, 0.002), (17.33, 0.044, 0.002),
    (17.5, 0.032, 0.002), (17.64, 0.032, 0.002), (17.88, 0.036, 0.002),
    (18.0, 0.03, 0.002), (18.24, 0.029, 0.002), (18.35, 0.039, 0.002), (18.47, 0.026, 0.002), (18.65, 0.039, 0.002), (18.8, 0.026, 0.002), (19.07, 0.026, 0.002), (19.25, 0.024, 0.002),
    (19.48, 0.019, 0.002), (19.66, 0.029, 0.002), (19.81, 0.027, 0.002), (20.02, 0.024, 0.002), (20.2, 0.027, 0.002), (20.49, 0.027, 0.002), (20.73, 0.026, 0.002), (20.91, 0.03, 0.002),
    (21.09, 0.024, 0.002), (21.29, 0.029, 0.002), (21.5, 0.024, 0.002), (21.7, 0.024, 0.002), (21.73, 0.051, 0.002), (21.76, 0.032, 0.002), (21.86, 0.032, 0.002), (22.0, 0.03, 0.002),
    (22.12, 0.039, 0.002), (22.24, 0.019, 0.002), (22.36, 0.01, 0.002), (22.45, 0.022, 0.002), (22.57, 0.015, 0.002), (22.75, 0.017, 0.002), (22.98, 0.022, 0.002), (23.1, 0.029, 0.004),
    (23.21, 0.056, 0.006), (23.34, 0.074, 0.005), (23.49, 0.068, 0.005), (23.58, 0.071, 0.005), (23.64, 0.042, 0.005), (23.71, 0.073, 0.006), (23.79, 0.056, 0.006), (23.84, 0.06, 0.006),
    (23.86, 0.15, 0.007), (23.88, 0.08, 0.007), (23.93, 0.079, 0.009), (23.98, 0.079, 0.01),
]

# Isolated voltage samples rising above the body: (hour, [values])
VOLTAGE_SCATTER = [
    (0.79, [0.219, 0.216, 0.211, 0.201, 0.196, 0.185, 0.176, 0.171, 0.162, 0.157]),
    (1.18, [0.342, 0.335, 0.329, 0.319, 0.302, 0.293, 0.267, 0.26, 0.223, 0.215, 0.194, 0.184, 0.177, 0.17, 0.162, 0.15, 0.143, 0.135, 0.127]),
    (1.68, [0.276, 0.271, 0.266, 0.263, 0.255, 0.247, 0.236, 0.228, 0.204, 0.201, 0.174, 0.16]),
    (1.78, [0.254, 0.244, 0.234, 0.216, 0.194, 0.184, 0.174, 0.164]),
    (2.17, [0.388, 0.367, 0.356, 0.352, 0.31, 0.305, 0.3, 0.295, 0.287, 0.285]),
    (2.73, [0.31, 0.302, 0.292, 0.278, 0.263, 0.246, 0.234, 0.218]),
    (3.06, [0.432, 0.426, 0.42, 0.406, 0.397, 0.38, 0.362, 0.349, 0.334, 0.319, 0.307, 0.3, 0.283]),
    (3.63, [0.19, 0.182, 0.174, 0.167, 0.157]),
    (3.79, [0.183, 0.174, 0.165, 0.152]),
    (4.14, [0.299, 0.292, 0.278, 0.268, 0.26, 0.246, 0.234, 0.224, 0.218]),
    (4.04, [0.2, 0.19]),
    (13.45, [0.275, 0.271, 0.256, 0.253, 0.24, 0.224, 0.222, 0.21, 0.201, 0.196, 0.191, 0.186, 0.177, 0.169, 0.158, 0.151, 0.142]),
    (13.14, [0.211, 0.197]),
    (13.8, [0.117]),
    (14.35, [0.053]),
]

# Low-pass filtered peak voltage: (hour, value)
VOLTAGE_FILTERED = [
    (0.0, 0.032), (0.04, 0.022), (0.125, 0.018), (0.14, 0.042), (0.2, 0.01), (0.23, 0.032), (0.26, 0.008), (0.32, 0.059), (0.36, 0.038), (0.39, 0.061),
    (0.43, 0.112), (0.48, 0.018), (0.55, 0.004), (0.61, 0.034), (0.66, 0.02), (0.71, 0.04), (0.75, 0.016), (0.78, 0.089), (0.82, 0.099), (0.87, 0.036),
    (0.93, 0.055), (0.99, 0.04), (1.08, 0.038), (1.13, 0.02), (1.15, 0.107), (1.21, 0.03), (1.27, 0.032), (1.33, 0.11), (1.4, 0.097), (1.46, 0.032),
    (1.52, 0.03), (1.55, 0.048), (1.61, 0.022), (1.67, 0.105), (1.72, 0.063), (1.76, 0.112), (1.82, 0.02), (1.91, 0.02), (2.0, 0.03), (2.04, 0.065),
    (2.1, 0.038), (2.15, 0.183), (2.21, 0.038), (2.3, 0.063), (2.37, 0.083), (2.43, 0.154), (2.48, 0.04), (2.54, 0.079), (2.61, 0.044), (2.67, 0.083),
    (2.73, 0.142), (2.79, 0.042), (2.83, 0.103), (2.86, 0.03), (2.89, 0.295), (2.93, 0.099), (2.98, 0.215), (3.03, 0.044), (3.07, 0.17), (3.13, 0.099),
    (3.18, 0.034), (3.25, 0.156), (3.31, 0.095), (3.37, 0.032), (3.41, 0.083), (3.47, 0.042), (3.52, 0.097), (3.57, 0.024), (3.62, 0.095), (3.67, 0.107),
    (3.73, 0.044), (3.77, 0.105), (3.82, 0.057), (3.88, 0.061), (3.95, 0.11), (3.99, 0.112), (4.08, 0.118), (4.14, 0.132), (4.2, 0.059), (4.26, 0.034),
    (4.32, 0.012), (4.38, 0.007), (5.0, 0.0065), (7.0, 0.005), (9.0, 0.005), (11.0, 0.004), (12.51, 0.005), (12.56, -0.007), (12.6, 0.108), (12.65, 0.047),
    (12.7, 0.177), (12.77, 0.083), (12.82, 0.147), (12.87, 0.18), (12.93, 0.079), (12.94, 0.127), (13.0, 0.069), (13.04, 0.042), (13.09, 0.093), (13.13, 0.13),
    (13.18, 0.09), (13.25, 0.088), (13.3, 0.032), (13.36, 0.042), (13.43, 0.103), (13.49, 0.032), (13.54, 0.063), (13.61, 0.032), (13.66, 0.036), (13.73, 0.012),
    (13.8, 0.068), (13.85, 0.015), (13.89, 0.022), (13.95, 0.009), (13.99, 0.034), (14.05, 0.026), (14.11, 0.01), (14.2, 0.019), (14.35, 0.015), (14.47, 0.024),
    (14.56, 0.007), (14.65, 0.019), (14.74, 0.009), (14.9, 0.019), (14.97, 0.012), (15.09, 0.027), (15.18, 0.019), (15.36, 0.015), (15.48, 0.061), (15.55, 0.036),
    (15.6, 0.024), (15.71, 0.031), (15.8, 0.024), (15.92, 0.034), (16.0, 0.039), (16.07, 0.019), (16.19, 0.029), (16.31, 0.019), (16.49, 0.015), (16.61, 0.027),
    (16.72, 0.012), (16.9, 0.01), (17.02, 0.017), (17.23, 0.009), (17.33, 0.024), (17.47, 0.01), (17.64, 0.016), (17.82, 0.012), (18.0, 0.017), (18.18, 0.012),
    (18.33, 0.022), (18.41, 0.01), (18.62, 0.017), (18.8, 0.01), (19.07, 0.015), (19.22, 0.007), (19.48, 0.007), (19.66, 0.012), (19.81, 0.009), (19.99, 0.014),
    (20.17, 0.009), (20.31, 0.012), (20.61, 0.01), (20.79, 0.014), (20.97, 0.007), (21.17, 0.012), (21.38, 0.012), (21.5, 0.007), (21.62, 0.014), (21.71, 0.026),
    (21.83, 0.012), (21.95, 0.009), (22.06, 0.02), (22.15, 0.01), (22.3, 0.005), (22.44, 0.015), (22.51, 0.005), (22.69, 0.012), (22.81, 0.005), (23.07, 0.01),
    (23.19, 0.015), (23.25, 0.037), (23.37, 0.039), (23.46, 0.024), (23.58, 0.036), (23.65, 0.022), (23.7, 0.039), (23.79, 0.022), (23.85, 0.098), (23.9, 0.027),
    (23.95, 0.052), (23.98, 0.051),
]

BLUE = "#1f77b4"
ORANGE = "#ff7f0e"
FONT = "DejaVu Sans"
WIDTH, HEIGHT = 1475, 1172


def to_time(hours):
    return [DAY_START + pd.Timedelta(hours=h) for h in hours]


def body_outline(rows):
    """Closed outline running along the upper edge and back along the lower edge."""
    hours = [r[0] for r in rows]
    upper = [r[1] for r in rows]
    lower = [r[2] for r in rows]
    return to_time(hours + hours[::-1]), upper + lower[::-1]


def flatten(columns):
    xs, ys = [], []
    for hour, values in columns:
        xs.extend([hour] * len(values))
        ys.extend(values)
    return to_time(xs), ys


def add_body(fig, rows, xaxis, yaxis, stroke, shape):
    x, y = body_outline(rows)
    fig.add_trace(go.Scatter(
        x=x, y=y, mode="lines", fill="toself", fillcolor=BLUE,
        line=dict(color=BLUE, width=stroke, shape=shape), hoverinfo="skip", showlegend=False,
        xaxis=xaxis, yaxis=yaxis,
    ))


def add_panel(fig, bodies, scatter, filtered, xaxis, yaxis, legend, stroke, shape):
    for rows in bodies:
        add_body(fig, rows, xaxis, yaxis, stroke, shape)
    x, y = flatten(scatter)
    fig.add_trace(go.Scatter(
        x=x, y=y, mode="markers", name=RAW_LABEL,
        marker=dict(color=BLUE, size=6.5), xaxis=xaxis, yaxis=yaxis, legend=legend,
    ))
    fig.add_trace(go.Scatter(
        x=to_time([r[0] for r in filtered]), y=[r[1] for r in filtered], mode="lines",
        name=FILTER_LABEL, line=dict(color=ORANGE, width=2.4), xaxis=xaxis, yaxis=yaxis, legend=legend,
    ))


fig = go.Figure()
add_panel(fig, [DOPPLER_BODY, DOPPLER_CLUSTER],
          DOPPLER_SCATTER + DOPPLER_SCATTER_UPPER + DOPPLER_SCATTER_LOWER + DOPPLER_SCATTER_EDGES,
          DOPPLER_FILTERED, "x", "y", "legend", 5.5, "linear")
add_panel(fig, [VOLTAGE_BODY], VOLTAGE_SCATTER, VOLTAGE_FILTERED, "x2", "y2", "legend2", 3.5, "hvh")

x_range = to_time([0, X_END_HOURS])
label_font = dict(family=FONT, size=22.2, color="black", weight=700)
axis_common = dict(
    automargin=False, showgrid=True, gridcolor="#b0b0b0", griddash="1px,2px", gridwidth=1,
    ticks="outside", ticklen=5, tickwidth=1.1, tickcolor="black",
    showline=True, linecolor="black", linewidth=1.2, mirror=True, zeroline=False,
    tickfont=label_font,
)
x_common = dict(axis_common, type="date", range=x_range, tick0=DAY_START, dtick=3 * 3600 * 1000,
                tickformat="%m-%d %H", domain=[119 / WIDTH, 1467 / WIDTH])

legend_common = dict(
    xref="paper", yref="paper", x=1456 / WIDTH, xanchor="right", yanchor="top",
    bgcolor="rgba(255,255,255,0.8)", bordercolor="#cccccc", borderwidth=1,
    font=dict(family=FONT, size=18.5, color="black", weight=700),
    itemsizing="trace", itemwidth=49, tracegroupgap=0,
)

fig.update_layout(
    width=WIDTH, height=HEIGHT, margin=dict(l=0, r=0, t=0, b=0, autoexpand=False),
    plot_bgcolor="white", paper_bgcolor="white", showlegend=True,
    xaxis=dict(x_common, anchor="y", showticklabels=False),
    yaxis=dict(axis_common, domain=[1 - 518 / HEIGHT, 1 - 39 / HEIGHT], anchor="x", range=[-1.215, 1.025],
               tickvals=DOPPLER_TICKS, tickformat=".2f",
               title=dict(text="Doppler Shift [Hz]", font=label_font, standoff=3)),
    xaxis2=dict(x_common, anchor="y2", tickangle=-30, ticklabelshift=-5, ticklabelstandoff=-6,
                title=dict(text="UTC", font=label_font, standoff=2)),
    yaxis2=dict(axis_common, domain=[1 - 1053 / HEIGHT, 1 - 575 / HEIGHT], anchor="x2", range=[-0.0283, 0.4545],
                tickvals=VOLTAGE_TICKS, tickformat=".1f",
                title=dict(text="Peak Voltage [V]", font=label_font, standoff=1)),
    legend=dict(legend_common, y=1 - 45 / HEIGHT),
    legend2=dict(legend_common, y=1 - 582 / HEIGHT),
    shapes=[
        dict(type="rect", xref=axis, yref=f"{axis.replace('x', 'y')} domain", layer="below",
             x0=to_time([SHADE_HOURS[0]])[0], x1=to_time([SHADE_HOURS[1]])[0], y0=0, y1=1,
             fillcolor="rgba(128,128,128,0.2)", line=dict(color="rgba(128,128,128,0.2)", width=1.5))
        for axis in ("x", "x2")
    ],
    annotations=[
        dict(text=TITLE, xref="paper", yref="paper", x=787 / WIDTH, y=1 - 21 / HEIGHT, showarrow=False,
             xanchor="center", yanchor="middle", font=dict(family=FONT, size=26.6, color="black", weight=700)),
        dict(text="(a)", xref="paper", yref="paper", x=117 / WIDTH, y=1 - 21 / HEIGHT, showarrow=False,
             xanchor="left", yanchor="middle", font=dict(family=FONT, size=26, color="black", weight=700)),
        dict(text="(b)", xref="paper", yref="paper", x=117 / WIDTH, y=1 - 558 / HEIGHT, showarrow=False,
             xanchor="left", yanchor="middle", font=dict(family=FONT, size=26, color="black", weight=700)),
    ],
)

fig.write_html("out.html")
